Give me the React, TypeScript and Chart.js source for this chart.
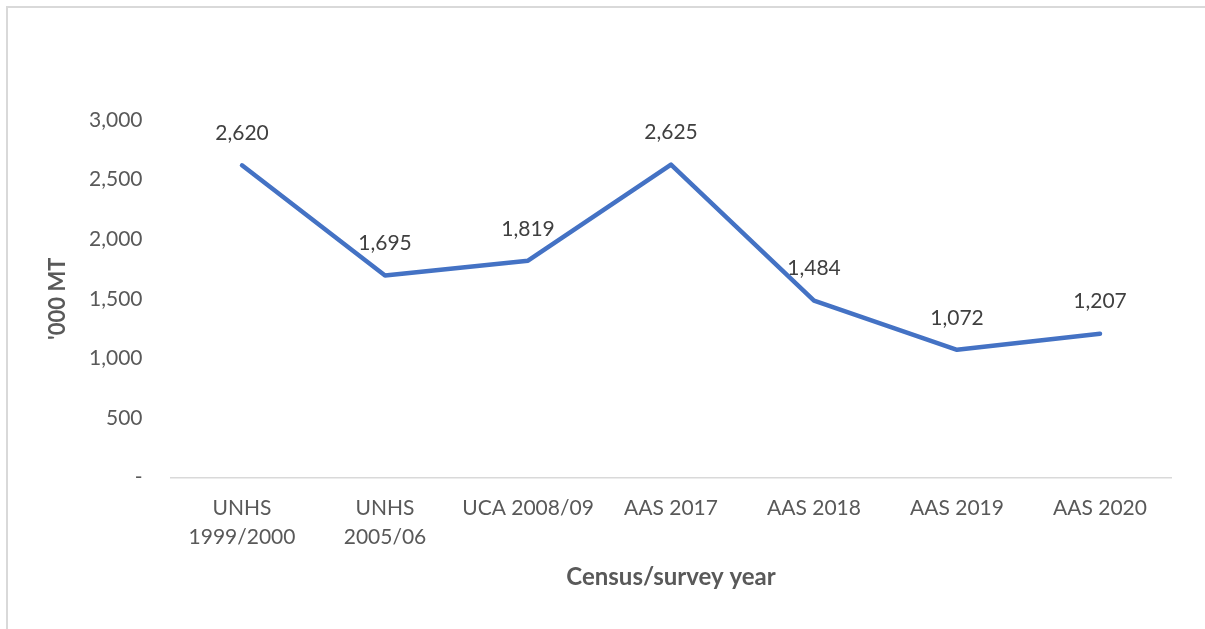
import React, { useEffect, useRef } from "react";
import { Chart, registerables } from "chart.js";

Chart.register(...registerables);

const categories: string[][] = [
  ["UNHS", "1999/2000"],
  ["UNHS", "2005/06"],
  ["UCA 2008/09"],
  ["AAS 2017"],
  ["AAS 2018"],
  ["AAS 2019"],
  ["AAS 2020"],
];
const values: number[] = [2620, 1695, 1819, 2625, 1484, 1072, 1207];
const yTicks: number[] = [0, 500, 1000, 1500, 2000, 2500, 3000];
const yTitle = "'000 MT";
const xTitle = "Census/survey year";

const FONT = "Lato, 'Open Sans', sans-serif";

const labelPlugin = {
  id: "pointLabels",
  afterDatasetsDraw(chart: any) {
    const ctx = chart.ctx;
    const meta = chart.getDatasetMeta(0);
    ctx.save();
    ctx.font = `21px ${FONT}`;
    ctx.fillStyle = "#404040";
    ctx.textAlign = "center";
    ctx.textBaseline = "middle";
    meta.data.forEach((pt: any, i: number) => {
      ctx.fillText(values[i].toLocaleString("en-US"), pt.x, pt.y - 32);
    });
    ctx.restore();
  },
};

export default function App() {
  const ref = useRef<HTMLCanvasElement | null>(null);
  useEffect(() => {
    if (!ref.current) return;
    const chart = new Chart(ref.current, {
      type: "line",
      data: {
        labels: categories,
        datasets: [
          {
            data: values,
            borderColor: "#4472C4",
            borderWidth: 4.5,
            borderCapStyle: "round",
            borderJoinStyle: "round",
            pointRadius: 0,
            tension: 0,
            fill: false,
          },
        ],
      },
      options: {
        animation: false,
        responsive: false,
        maintainAspectRatio: false,
        layout: { padding: { left: 0, top: 120, right: 33.5, bottom: 0 } },
        plugins: { legend: { display: false }, tooltip: { enabled: false } },
        scales: {
          x: {
            offset: true,
            grid: { display: false, drawTicks: false },
            border: { display: true, color: "#d9d9d9", width: 1.5 },
            ticks: {
              color: "#595959",
              font: { family: FONT, size: 21, lineHeight: 1.4 },
              padding: 16,
              maxRotation: 0,
              autoSkip: false,
            },
            title: {
              display: true,
              text: xTitle,
              color: "#595959",
              font: { family: FONT, size: 24, weight: "bold", lineHeight: 1.2 },
              padding: { top: 0, bottom: 37 },
            },
            afterFit: (s: any) => {
              s.height = 151.5;
            },
          },
          y: {
            min: 0,
            max: 3000,
            afterBuildTicks: (s: any) => {
              s.ticks = yTicks.map((v) => ({ value: v }));
            },
            grid: { display: false, drawTicks: false },
            border: { display: false },
            ticks: {
              color: "#595959",
              font: { family: FONT, size: 21 },
              padding: 28,
              callback: (v: any) => (Number(v) === 0 ? "-" : Number(v).toLocaleString("en-US")),
            },
            title: {
              display: true,
              text: yTitle,
              color: "#595959",
              font: { family: FONT, size: 22, weight: "bold", lineHeight: 1.2 },
              padding: { top: 45, bottom: 0 },
            },
            afterFit: (s: any) => {
              s.width = 170.5;
            },
          },
        },
      },
      plugins: [labelPlugin],
    } as any);
    return () => chart.destroy();
  }, []);

  return (
    <div style={{ position: "fixed", left: 0, top: 0, width: 1205, height: 629, background: "#fff", overflow: "hidden" }}>
      <div
        style={{
          position: "absolute",
          left: 6,
          top: 6,
          width: 1300,
          height: 700,
          borderLeft: "2px solid #d9d9d9",
          borderTop: "2px solid #d9d9d9",
        }}
      />
      <canvas ref={ref} width={1205} height={629} style={{ position: "absolute", left: 0, top: 0 }} />
    </div>
  );
}
